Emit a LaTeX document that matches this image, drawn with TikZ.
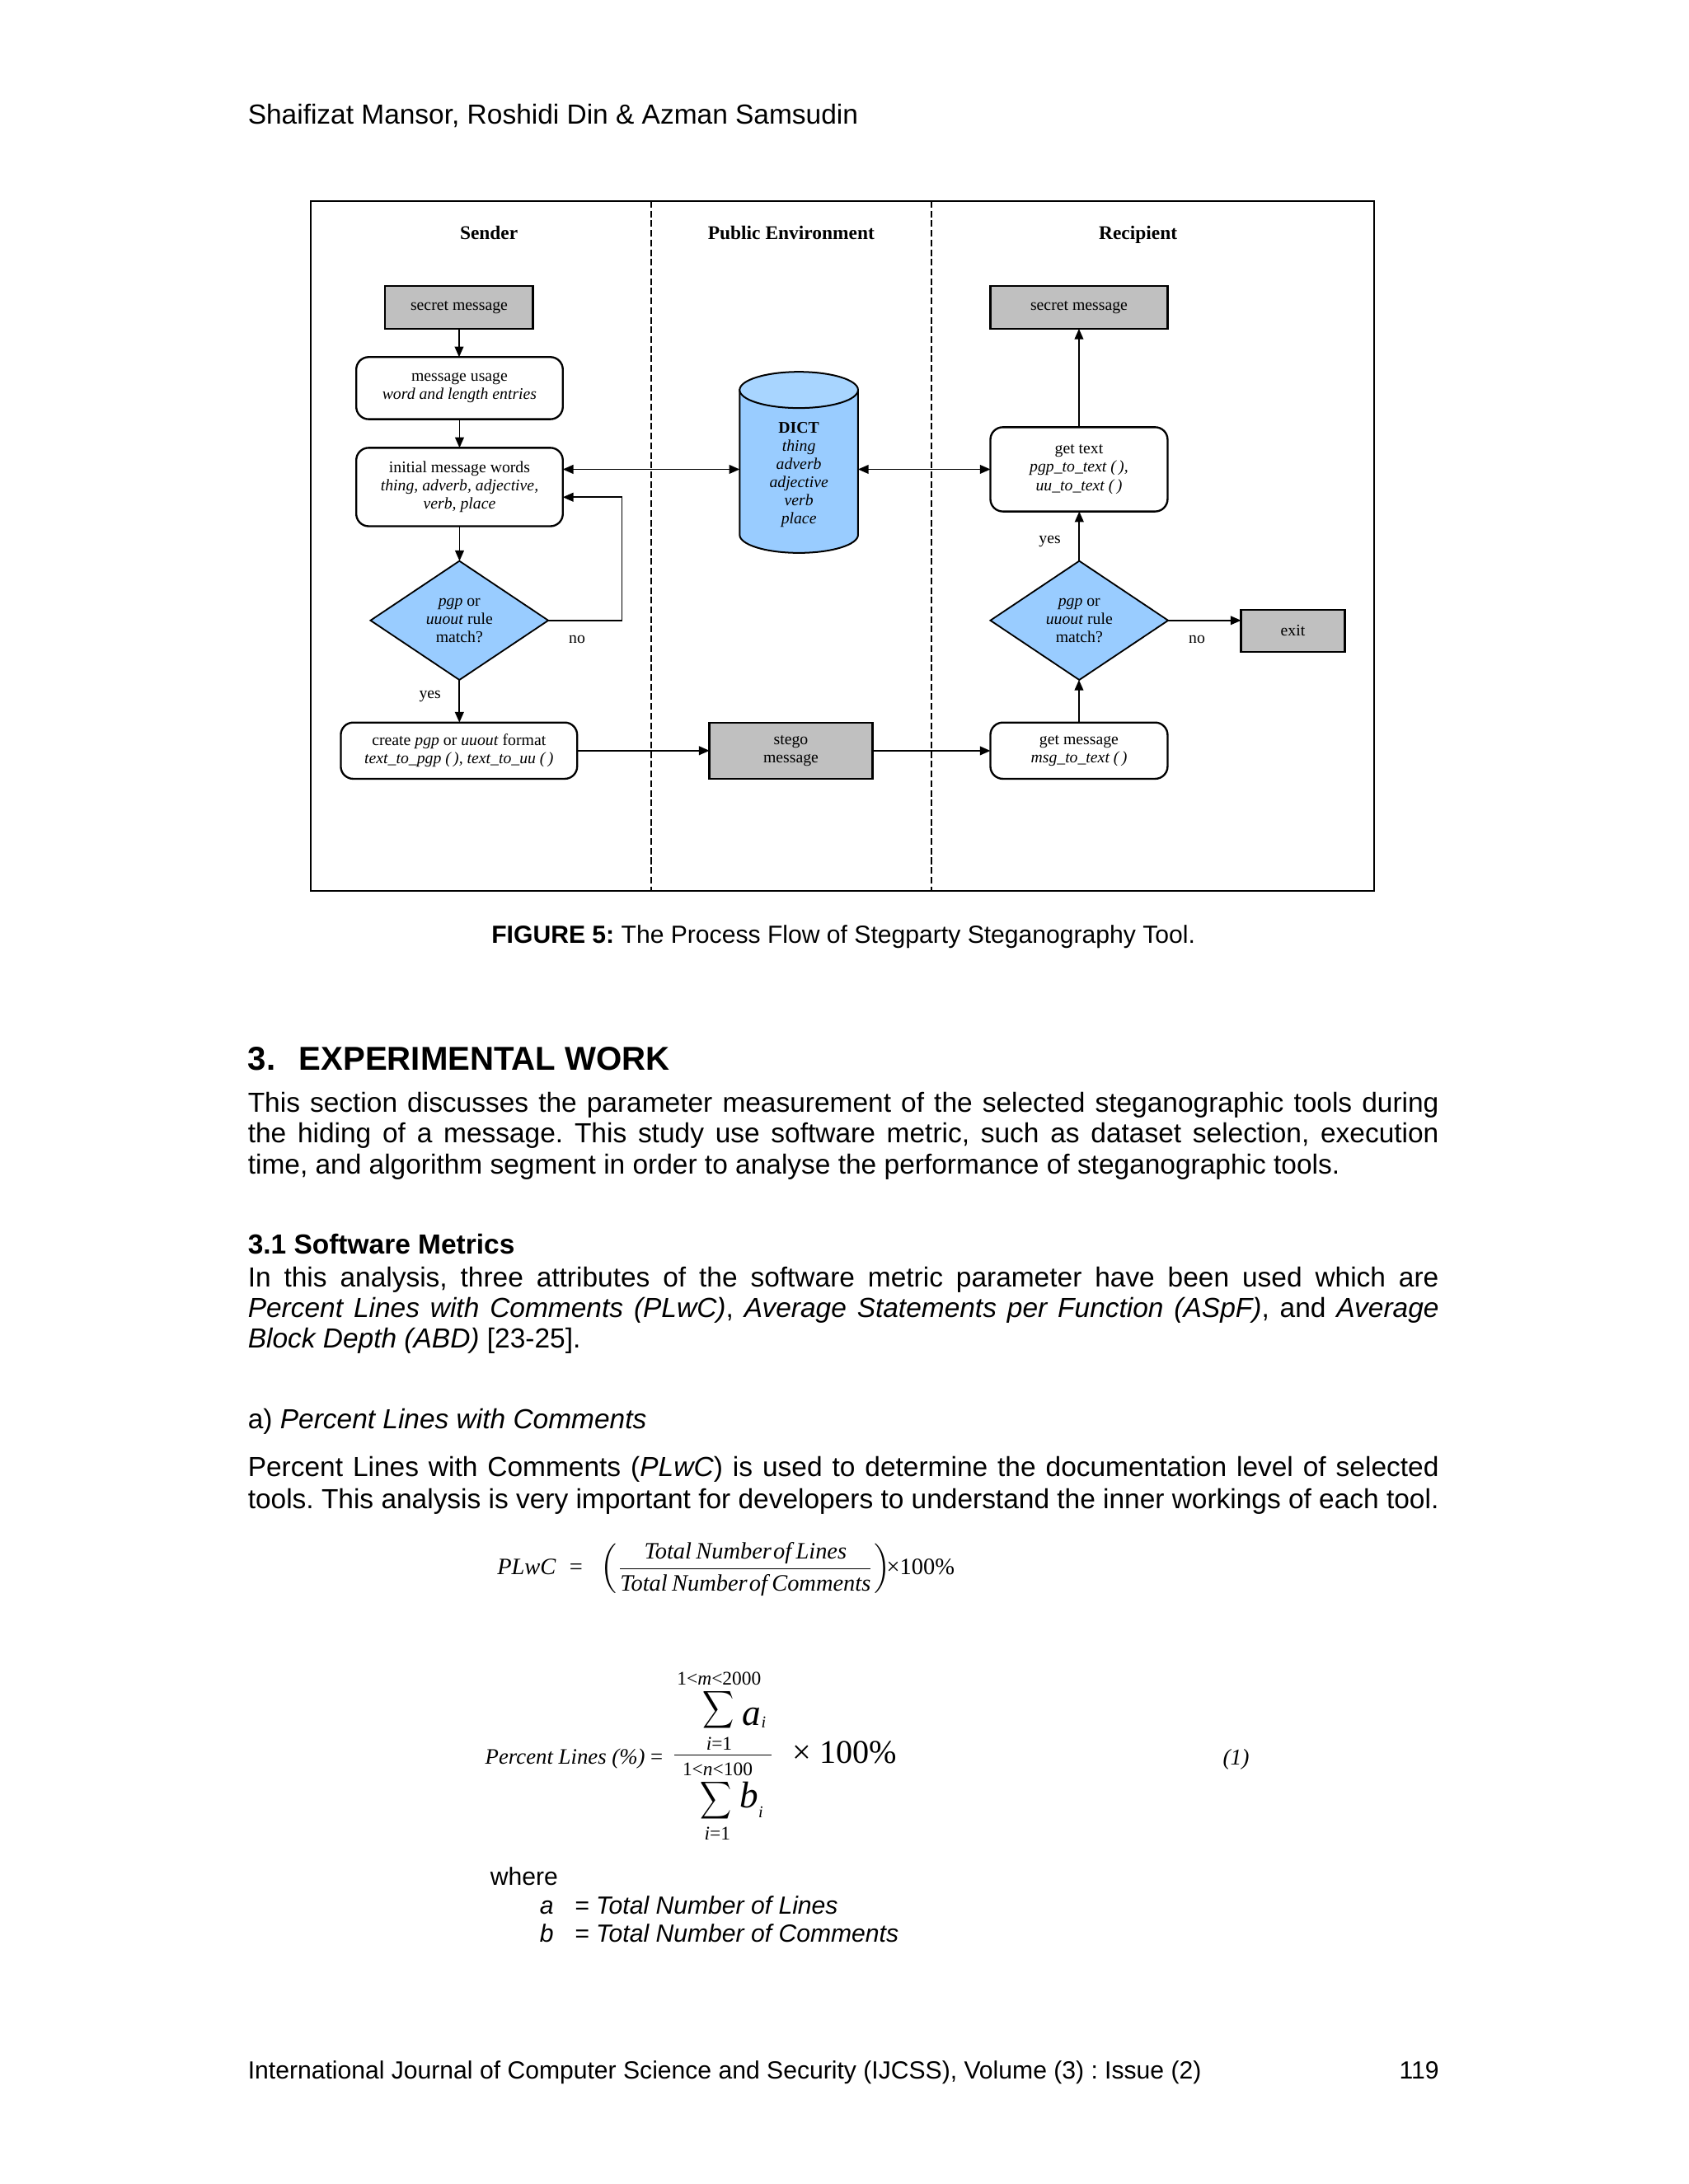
\documentclass[tikz,border=0pt]{standalone}
\usepackage{fontspec}
\setmainfont{Liberation Sans}
\newfontfamily\tms{Liberation Serif}
\usetikzlibrary{arrows.meta,shapes.geometric,calc}
\definecolor{boxgray}{HTML}{C0C0C0}
\definecolor{dblue}{HTML}{99CCFF}
\definecolor{dtop}{HTML}{A8D5FF}
\newcommand\jl[1]{\makebox[431.7pt][s]{#1}}
\frenchspacing
\begin{document}
\begin{tikzpicture}[x=0.50495pt,y=-0.50495pt,
  every node/.style={inner sep=0pt, outer sep=0pt},
  figtxt/.style={font=\tms\fontsize{5.9}{6.6}\selectfont, align=center},
  fbox/.style={draw, line width=0.7pt, figtxt},
  graybox/.style={fbox, fill=boxgray},
  roundbox/.style={fbox, rounded corners=4.5pt, fill=white},
  decision/.style={diamond, draw, line width=0.55pt, fill=dblue, figtxt, aspect=1.49, minimum width=64.43pt, minimum height=43.12pt},
  arr/.style={-{Triangle[length=3.8pt,width=3.2pt]}, line width=0.5pt},
  arrtwo/.style={{Triangle[length=3.8pt,width=3.2pt]}-{Triangle[length=3.8pt,width=3.2pt]}, line width=0.5pt},
  lane/.style={line width=0.6pt, dash pattern=on 2.4pt off 1.1pt},
  head/.style={font=\tms\bfseries\fontsize{7}{8}\selectfont, anchor=base},
  body/.style={anchor=base west, font=\fontsize{10}{12}\selectfont},
  small/.style={anchor=base west, font=\fontsize{9}{11}\selectfont},
  eq/.style={anchor=base west, font=\tms\itshape\fontsize{8.5}{10}\selectfont}
]
\fill[white] (0,0) rectangle (1212,1568.2);
\useasboundingbox (0,0) rectangle (1212,1568.2);

% ---------------- page text ----------------
\node[body] (hdr) at (178,88.8) {Shaifizat Mansor, Roshidi Din \& Azman Samsudin};

% ---------------- figure ----------------
\draw[line width=0.6pt] (223.3,144.4) rectangle (986.5,639.5);
\draw[lane] (467.5,144.4) -- (467.5,639.5);
\draw[lane] (668.7,144.4) -- (668.7,639.5);

\node[head] (hsend) at (351,172) {Sender};
\node[head] (hpub) at (568,172) {Public Environment};
\node[head] (hrec) at (817,172) {Recipient};

\node[graybox, minimum width=53.58pt, minimum height=15.45pt] (sm1) at (329.6,220.8) {secret message};
\node[roundbox, minimum width=74.88pt, minimum height=22.52pt] (mu) at (329.9,278.7) {message usage\\\textit{word and length entries}};
\node[roundbox, minimum width=74.88pt, minimum height=28.43pt] (iw) at (329.9,349.7) {initial message words\\\textit{thing, adverb, adjective,}\\\textit{verb, place}};
\node[decision] (d1) at (329.8,445.5) {\textit{pgp} or\\\textit{uuout} rule\\match?};
\node[roundbox, minimum width=85.69pt, minimum height=20.40pt] (cr) at (329.5,539) {create \textit{pgp} or \textit{uuout} format\\\textit{text\_to\_pgp (\,), text\_to\_uu (\,)}};

% DICT cylinder
\path[fill=dblue, draw=black, line width=0.6pt] (531,280) -- (531,384) arc[start angle=180, end angle=0, x radius=42.5, y radius=13] -- (616,280) -- cycle;
\draw[fill=dtop, line width=0.6pt] (573.5,280) ellipse [x radius=42.5, y radius=13];
\node[figtxt, font=\tms\fontsize{5.9}{6.56}\selectfont, minimum width=42.92pt] (dict) at (573.5,340.8) {\textbf{DICT}\\\textit{thing}\\\textit{adverb}\\\textit{adjective}\\\textit{verb}\\\textit{place}};
\coordinate (dl) at ($(dict.west)+(0,-3.8)$);
\coordinate (dr) at ($(dict.east)+(0,-3.8)$);

\node[graybox, minimum width=59.08pt, minimum height=20.50pt] (st) at (567.8,539.1) {stego\\message};

\node[graybox, minimum width=64.23pt, minimum height=15.45pt] (sm2) at (774.6,220.8) {secret message};
\node[roundbox, minimum width=64.23pt, minimum height=30.55pt] (gt) at (774.6,337) {get text\\\textit{pgp\_to\_text (\,),}\\\textit{uu\_to\_text (\,)}};
\node[decision] (d2) at (774.8,445.5) {\textit{pgp} or\\\textit{uuout} rule\\match?};
\node[graybox, minimum width=37.62pt, minimum height=15.25pt] (ex) at (928.2,453) {exit};
\node[roundbox, minimum width=64.23pt, minimum height=20.40pt] (gm) at (774.6,539) {get message\\\textit{msg\_to\_text (\,)}};

\coordinate (lp) at (446.4,357);
\draw[arr] (sm1.south) -- (sm1.south |- mu.north);
\draw[arr] (mu.south) -- (mu.south |- iw.north);
\draw[arr] (iw.south) -- (iw.south |- d1.north);
\draw[arr] (d1.south) -- (d1.south |- cr.north);
\draw[arr] (d1.east) -| (lp) -- (iw.east |- lp);
\draw[arrtwo] (iw.east |- dl) -- (dl);
\draw[arrtwo] (dr) -- (gt.west |- dr);
\draw[arr] (cr.east) -- (st.west |- cr.east);
\draw[arr] (st.east) -- (gm.west |- st.east);
\draw[arr] (gm.north) -- (gm.north |- d2.south);
\draw[arr] (d2.north) -- (d2.north |- gt.south);
\draw[arr] (gt.north) -- (gt.north |- sm2.south);
\draw[arr] (d2.east) -- (ex.west |- d2.east);

\node[figtxt] (no1) at (414.3,459.2) {no};
\node[figtxt] (yes1) at (308.7,500) {yes};
\node[figtxt] (yes2) at (753.7,389) {yes};
\node[figtxt] (no2) at (859.3,459.2) {no};

% ---------------- caption and body ----------------
\node[anchor=base, font=\fontsize{9}{11}\selectfont] (cap) at (605.5,677.2) {\textbf{FIGURE 5:} The Process Flow of Stegparty Steganography Tool.};

\node[body, font=\bfseries\fontsize{12}{14}\selectfont] (sec) at (178,768.3) {3.\hspace{8.5pt}EXPERIMENTAL WORK};
\node[body] (p1a) at (178,798.5) {\jl{This section discusses the parameter measurement of the selected steganographic tools during}};
\node[body] (p1b) at (178,820.7) {\jl{the hiding of a message. This study use software metric, such as dataset selection, execution}};
\node[body] (p1c) at (178,843) {time, and algorithm segment in order to analyse the performance of steganographic tools.};

\node[body, font=\bfseries\fontsize{10}{12}\selectfont] (sub) at (178,900.5) {3.1 Software Metrics};
\node[body] (p2a) at (178,923.8) {\jl{In this analysis, three attributes of the software metric parameter have been used which are}};
\node[body] (p2b) at (178,945.9) {\jl{\textit{Percent Lines with Comments (PLwC)}, \textit{Average Statements per Function (ASpF)}, and \textit{Average}}};
\node[body] (p2c) at (178,967.6) {\textit{Block Depth (ABD)} [23-25].};

\node[body] (suba) at (178,1025.8) {a) \textit{Percent Lines with Comments}};
\node[body] (p3a) at (178,1060.3) {\jl{Percent Lines with Comments (\textit{PLwC}) is used to determine the documentation level of selected}};
\node[body] (p3b) at (178,1083) {\jl{tools. This analysis is very important for developers to understand the inner workings of each tool.}};

% ---------------- equation PLwC ----------------
\node[eq] (plwc) at (357,1130.4) {PLwC};
\node[eq, font=\tms\fontsize{8.5}{10}\selectfont] (eq1) at (408.8,1130.4) {=};
\node[eq] (fr1) at (431,1130.4) {$\displaystyle\left(\frac{\mbox{Total\hspace{1.6pt}Number\hspace{0.6pt}of\hspace{1.6pt}Lines}}{\mbox{Total\hspace{1.6pt}Number\hspace{0.6pt}of\hspace{1.6pt}Comments}}\right)$};
\node[eq, font=\tms\fontsize{8.5}{10}\selectfont] (pc1) at (636.5,1130.4) {×100\%};

% ---------------- equation (1) ----------------
\node[eq, font=\tms\itshape\fontsize{8}{10}\selectfont] (pl) at (348.4,1266.4) {Percent Lines (\%) \textup{=}};
\node[eq, font=\tms\fontsize{7}{8}\selectfont] (lim1) at (486.1,1209.6) {1\textless\textit{m}\textless 2000};
\node (sig1) at (516,1227.8) {\resizebox*{11.4pt}{15.2pt}{$\displaystyle\sum$}};
\node[eq, font=\tms\itshape\fontsize{13.5}{14}\selectfont] (ai) at (533,1238.8) {a};
\node[eq, font=\tms\itshape\fontsize{6}{7}\selectfont] (aii) at (546.5,1240.5) {i};
\node[eq, font=\tms\fontsize{7}{8}\selectfont] (low1) at (507,1256.6) {\textit{i}=1};
\coordinate (barl) at (484.3,1260.1);
\coordinate (barr) at (554.1,1260.1);
\draw[line width=0.5pt] (barl) -- (barr);
\node[eq, font=\tms\fontsize{7}{8}\selectfont] (lim2) at (490,1274.7) {1\textless\textit{n}\textless 100};
\node (sig2) at (514,1293.1) {\resizebox*{11.4pt}{15.2pt}{$\displaystyle\sum$}};
\node[eq, font=\tms\itshape\fontsize{13.5}{14}\selectfont] (bi) at (531,1298) {b};
\node[eq, font=\tms\itshape\fontsize{6}{7}\selectfont] (bii) at (544.5,1304.9) {i};
\node[eq, font=\tms\fontsize{7}{8}\selectfont] (low2) at (505.7,1321.3) {\textit{i}=1};
\node[eq, font=\tms\fontsize{12}{14}\selectfont] (pc2) at (569.2,1266) {× 100\%};
\node[eq, font=\tms\itshape\fontsize{8.2}{10}\selectfont] (num) at (877.9,1267.4) {(1)};

% ---------------- where ----------------
\node[small] (wh) at (352,1353.8) {where};
\node[small] (va) at (387.6,1374.5) {\textit{a}};
\node[small] (ea) at (412.5,1374.5) {\textit{= Total Number of Lines}};
\node[small] (vb) at (387.6,1394.3) {\textit{b}};
\node[small] (eb) at (412.5,1394.3) {\textit{= Total Number of Comments}};

% ---------------- footer ----------------
\node[small] (ft) at (178,1492.9) {International Journal of Computer Science and Security (IJCSS), Volume (3) : Issue (2)};
\node[anchor=base east, font=\fontsize{9}{11}\selectfont] (pg) at (1033,1492.9) {119};
\end{tikzpicture}
\end{document}
